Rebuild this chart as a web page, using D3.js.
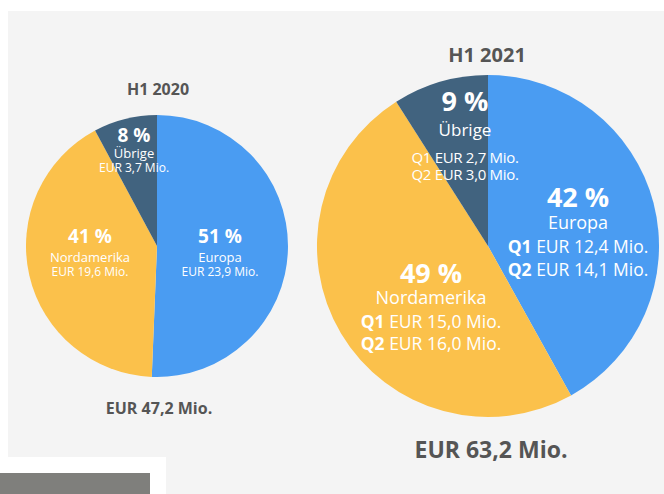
<!DOCTYPE html>
<html>
<head>
<meta charset="utf-8">
<script src="https://cdn.jsdelivr.net/npm/d3@7"></script>
<style>
  html, body { margin: 0; padding: 0; background: #ffffff; }
  svg { display: block; font-family: "Open Sans", "Noto Sans", sans-serif; }
</style>
</head>
<body>
<div id="chart"></div>
<script>
const regions = ["Europa", "Nordamerika", "Übrige"]
const colors = ["#4a9cf2", "#fbc14b", "#41637f"]

const values2020 = [23.9, 19.6, 3.7]
const shares2020 = ["51 %", "41 %", "8 %"]
const total2020 = 47.2

const values2021Q1 = [12.4, 15.0, 2.7]
const values2021Q2 = [14.1, 16.0, 3.0]
const shares2021 = ["42 %", "49 %", "9 %"]
const total2021 = 63.2

const titles = ["H1 2020", "H1 2021"]

const width = 664
const height = 494

const locale = d3.formatLocale({decimal: ",", thousands: ".", grouping: [3], currency: ["", " EUR"]})
const fmt = locale.format(".1f")
const eur = value => `EUR ${fmt(value)} Mio.`

const svg = d3.select("#chart")
  .append("svg")
  .attr("width", width)
  .attr("height", height)
  .attr("viewBox", `0 0 ${width} ${height}`)

// background panel with the white notch bottom left
svg.append("path")
  .attr("d", "M8,11 H664 V494 H166 V457 H8 Z")
  .attr("fill", "#f4f4f4")

svg.append("rect")
  .attr("x", 0)
  .attr("y", 473)
  .attr("width", 150)
  .attr("height", 21)
  .attr("fill", "#7f7f7c")

const pie = d3.pie().sort(null).value(d => d)

function drawPie(cx, cy, radius, values) {
  const arc = d3.arc().innerRadius(0).outerRadius(radius)
  const g = svg.append("g").attr("transform", `translate(${cx},${cy})`)
  g.selectAll("path")
    .data(pie(values))
    .join("path")
    .attr("d", arc)
    .attr("fill", (d, i) => colors[i])
  return g
}

function addText(g, x, y, text, size, weight, fill) {
  return g.append("text")
    .attr("x", x)
    .attr("y", y)
    .attr("text-anchor", "middle")
    .attr("font-size", size)
    .attr("font-weight", weight)
    .attr("fill", fill || "#ffffff")
    .text(text)
}

// H1 2020
const left = drawPie(157, 246, 131, values2020)
addText(svg, 158, 95, titles[0], 16, 700, "#555555")
addText(svg, 159, 414, eur(total2020), 16, 700, "#555555")

const leftLabels = [
  {dx: 63, y: [243, 262, 276]},
  {dx: -67, y: [243, 262, 276]},
  {dx: -23, y: [142, 158, 172]}
]
leftLabels.forEach((pos, i) => {
  addText(left, pos.dx, pos.y[0] - 246, shares2020[i], 19, 700)
  addText(left, pos.dx, pos.y[1] - 246, regions[i], 13, 400)
  addText(left, pos.dx, pos.y[2] - 246, eur(values2020[i]), 12, 400)
})

// H1 2021
const values2021 = values2021Q1.map((v, i) => +(v + values2021Q2[i]).toFixed(1))
const right = drawPie(488, 246, 171, values2021)
addText(svg, 487, 62, titles[1], 20, 700, "#555555")
addText(svg, 491, 458, eur(total2021), 23, 700, "#555555")

const rightLabels = [
  {dx: 90, y: [207, 229, 253, 276], size: 17.5, share: 27, spacing: 0},
  {dx: -57, y: [283, 304, 328, 350], size: 17.5, share: 27, spacing: 0},
  {dx: -23, y: [111, 136, 163, 180], size: 15, share: 27, spacing: -0.3}
]
rightLabels.forEach((pos, i) => {
  addText(right, pos.dx, pos.y[0] - 246, shares2021[i], pos.share, 700)
  addText(right, pos.dx, pos.y[1] - 246, regions[i], i === 2 ? 17 : 18, 400)
  const quarters = [values2021Q1[i], values2021Q2[i]]
  quarters.forEach((value, q) => {
    const t = right.append("text")
      .attr("x", pos.dx)
      .attr("y", pos.y[2 + q] - 246)
      .attr("text-anchor", "middle")
      .attr("font-size", pos.size)
      .attr("fill", "#ffffff")
      .attr("letter-spacing", pos.spacing)
    t.append("tspan").attr("font-weight", i === 2 ? 400 : 700).text(`Q${q + 1} `)
    t.append("tspan").attr("font-weight", 400).text(eur(value))
  })
})
</script>
</body>
</html>
